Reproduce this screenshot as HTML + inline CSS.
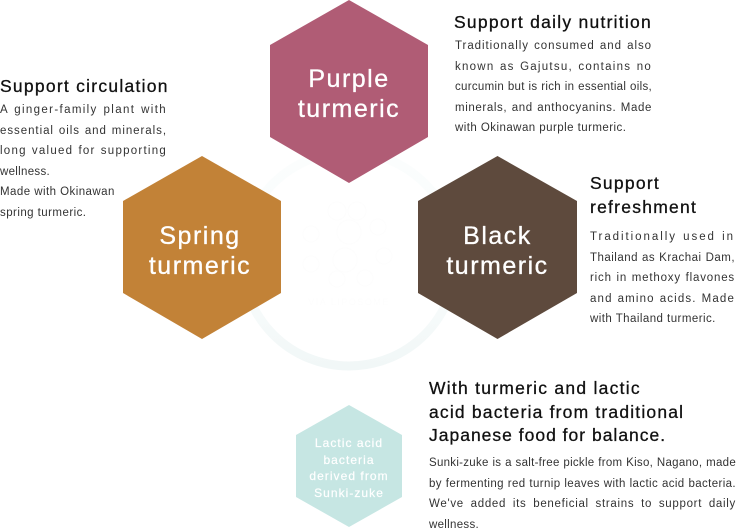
<!DOCTYPE html>
<html lang="en"><head><meta charset="utf-8"><style>
html,body{margin:0;padding:0;background:#fff}
#p{position:relative;width:737px;height:529px;overflow:hidden;font-family:"Liberation Sans",sans-serif;color:#222}
#p svg{position:absolute;left:0;top:0}
.t,.b,.h{position:absolute}
.h{font-size:25px;line-height:30px;color:#fff;text-align:center;letter-spacing:1.5px;-webkit-text-stroke:.3px #fff;white-space:nowrap}
.t{font-size:17.5px;line-height:24px;letter-spacing:1.25px;color:#111;-webkit-text-stroke:.3px #111;white-space:nowrap}
.b{font-size:11.5px;line-height:20.5px;letter-spacing:.45px;color:#333}
.b span{display:block;white-space:nowrap}
.b span.j{white-space:normal;text-align:justify;text-align-last:justify}
</style></head><body><div id="p">
<svg width="737" height="529" viewBox="0 0 737 529">
<defs><linearGradient id="g" x1="0" y1="0" x2="0" y2="1"><stop offset="0" stop-color="#fbfdfd"/><stop offset=".6" stop-color="#f9fcfc"/><stop offset="1" stop-color="#f1f7f7"/></linearGradient></defs>
<circle cx="349" cy="259" r="107" fill="none" stroke="url(#g)" stroke-width="9"/>
<g fill="none" stroke="#fdfdfd" stroke-width="1">
<circle cx="337" cy="211" r="9"/><circle cx="357" cy="211" r="9"/><circle cx="378" cy="227" r="8"/><circle cx="311" cy="234" r="8"/><circle cx="349" cy="232" r="12"/><circle cx="384" cy="256" r="8"/><circle cx="311" cy="264" r="8"/><circle cx="345" cy="260" r="12"/><circle cx="337" cy="279" r="8"/><circle cx="365" cy="278" r="8"/>
</g>
<text x="349" y="305" text-anchor="middle" font-size="9" letter-spacing="1.5" fill="#fdfdfd" font-family="Liberation Sans, sans-serif">VIA LIPOSOME</text>
<polygon points="349,0 428,45 428,137 349,183 270,137 270,45" fill="#b05c75"/>
<polygon points="202,156 281,201 281,293 202,339 123,293 123,201" fill="#c28237"/>
<polygon points="497.5,156 577,201 577,293 497.5,339 418,293 418,201" fill="#5e4a3d"/>
<polygon points="349,405 402,435 402,497 349,527 296,497 296,435" fill="#c6e6e3"/>
</svg>
<div class="h" style="left:270px;width:158px;top:64px">Purple<br>turmeric</div>
<div class="h" style="left:121px;width:158px;top:221px">Spring<br>turmeric</div>
<div class="h" style="left:418px;width:159px;top:221px">Black<br>turmeric</div>
<div class="h" style="left:296px;width:106px;top:435px;font-size:12px;line-height:16.5px;letter-spacing:1.05px;-webkit-text-stroke:.2px #fff">Lactic acid<br>bacteria<br>derived from<br>Sunki-zuke</div>
<div class="t" style="left:454px;top:10px">Support daily nutrition</div>
<div class="b" style="left:455px;top:36px;width:197px"><span class="j" style="letter-spacing:.95px">Traditionally consumed and also</span><span class="j" style="letter-spacing:1.25px">known as Gajutsu, contains no</span><span class="j" style="letter-spacing:.3px">curcumin but is rich in essential oils,</span><span class="j" style="letter-spacing:.62px">minerals, and anthocyanins. Made</span><span>with Okinawan purple turmeric.</span></div>
<div class="t" style="left:0;top:74px">Support circulation</div>
<div class="b" style="left:0;top:100px;width:167px"><span class="j" style="letter-spacing:1.35px">A ginger-family plant with</span><span class="j" style="letter-spacing:.95px">essential oils and minerals,</span><span class="j" style="letter-spacing:1.25px">long valued for supporting</span><span style="letter-spacing:.3px">wellness.</span><span>Made with Okinawan</span><span>spring turmeric.</span></div>
<div class="t" style="left:590px;top:171px">Support<br>refreshment</div>
<div class="b" style="left:590px;top:227px;width:145px"><span class="j" style="letter-spacing:1.95px">Traditionally used in</span><span class="j" style="letter-spacing:.48px">Thailand as Krachai Dam,</span><span class="j" style="letter-spacing:.82px">rich in methoxy flavones</span><span class="j" style="letter-spacing:1.15px">and amino acids. Made</span><span>with Thailand turmeric.</span></div>
<div class="t" style="left:429px;top:377px;line-height:23.5px">With turmeric and lactic<br><span style="letter-spacing:1.18px">acid bacteria from traditional</span><br><span style="letter-spacing:1px">Japanese food for balance.</span></div>
<div class="b" style="left:429px;top:453px;width:307px"><span class="j" style="letter-spacing:.28px">Sunki-zuke is a salt-free pickle from Kiso, Nagano, made</span><span class="j" style="letter-spacing:.38px">by fermenting red turnip leaves with lactic acid bacteria.</span><span class="j" style="letter-spacing:.7px">We've added its beneficial strains to support daily</span><span style="letter-spacing:.3px">wellness.</span></div>
</div></body></html>
